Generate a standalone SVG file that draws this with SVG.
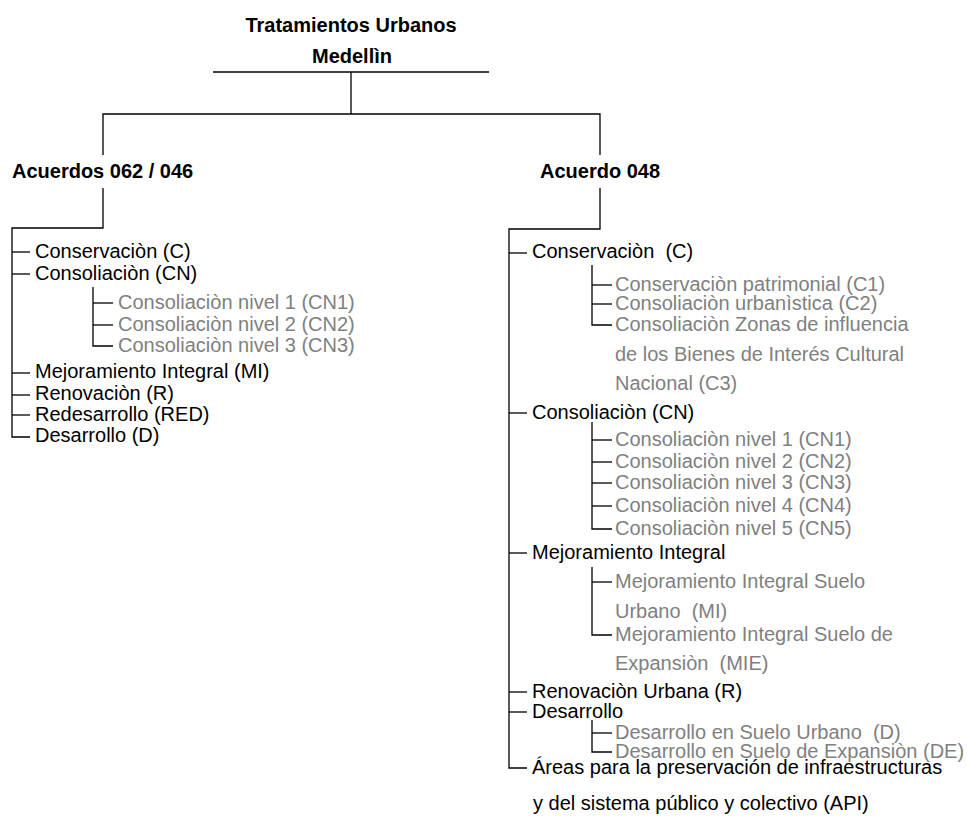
<svg xmlns="http://www.w3.org/2000/svg" width="967" height="824" viewBox="0 0 967 824">
<style>
text{font-family:"Liberation Sans",Arial,sans-serif;font-size:20px;fill:#000;white-space:pre}
.h{font-weight:bold}
.s{fill:#808080}
.c line,.c path{stroke:#000;stroke-width:1.3;fill:none}
</style>
<rect width="967" height="824" fill="#fff"/>
<g class="c" id="connectors">
<line x1="213" y1="72" x2="489" y2="72"/>
<line x1="351" y1="72" x2="351" y2="114"/>
<path d="M103 155V114H600V155"/>
<path d="M103 188V228H12V437H30"/>
<line x1="12" y1="252" x2="30" y2="252"/>
<line x1="12" y1="274" x2="30" y2="274"/>
<line x1="12" y1="373" x2="30" y2="373"/>
<line x1="12" y1="395" x2="30" y2="395"/>
<line x1="12" y1="415" x2="30" y2="415"/>
<path d="M93 287V346H113"/>
<line x1="93" y1="303" x2="113" y2="303"/>
<line x1="93" y1="325" x2="113" y2="325"/>
<path d="M600 188V229H509V768H527"/>
<line x1="509" y1="253" x2="527" y2="253"/>
<line x1="509" y1="413" x2="527" y2="413"/>
<line x1="509" y1="553" x2="527" y2="553"/>
<line x1="509" y1="692" x2="527" y2="692"/>
<line x1="509" y1="712" x2="527" y2="712"/>
<path d="M592 265V325H612"/>
<line x1="592" y1="285" x2="612" y2="285"/>
<line x1="592" y1="304" x2="612" y2="304"/>
<path d="M592 422V529H612"/>
<line x1="592" y1="440" x2="612" y2="440"/>
<line x1="592" y1="462" x2="612" y2="462"/>
<line x1="592" y1="483" x2="612" y2="483"/>
<line x1="592" y1="506" x2="612" y2="506"/>
<path d="M592 567V635H612"/>
<line x1="592" y1="582" x2="612" y2="582"/>
<path d="M592 720V752H612"/>
<line x1="592" y1="733" x2="612" y2="733"/>
</g>
<g id="root"><text class="h" x="351" y="32" text-anchor="middle">Tratamientos Urbanos</text><text class="h" x="352" y="63" text-anchor="middle">Medellìn</text></g>
<g id="acuerdos062"><text class="h" x="12" y="178">Acuerdos 062 / 046</text></g>
<g id="acuerdo048"><text class="h" x="540" y="178">Acuerdo 048</text></g>
<g id="l-c"><text x="35" y="258">Conservaciòn (C)</text></g>
<g id="l-cn"><text x="35" y="280">Consoliaciòn (CN)</text></g>
<g id="l-cn1"><text class="s" x="118" y="309">Consoliaciòn nivel 1 (CN1)</text></g>
<g id="l-cn2"><text class="s" x="118" y="331">Consoliaciòn nivel 2 (CN2)</text></g>
<g id="l-cn3"><text class="s" x="118" y="352">Consoliaciòn nivel 3 (CN3)</text></g>
<g id="l-mi"><text x="35" y="378">Mejoramiento Integral (MI)</text></g>
<g id="l-r"><text x="35" y="400">Renovaciòn (R)</text></g>
<g id="l-red"><text x="35" y="421">Redesarrollo (RED)</text></g>
<g id="l-d"><text x="35" y="442">Desarrollo (D)</text></g>
<g id="r-c"><text x="532" y="258">Conservaciòn  (C)</text></g>
<g id="r-c1"><text class="s" x="615" y="291">Conservaciòn patrimonial (C1)</text></g>
<g id="r-c2"><text class="s" x="615" y="310">Consoliaciòn urbanìstica (C2)</text></g>
<g id="r-c3"><text class="s" x="615" y="331">Consoliaciòn Zonas de influencia</text><text class="s" x="615" y="361">de los Bienes de Interés Cultural</text><text class="s" x="615" y="390">Nacional (C3)</text></g>
<g id="r-cn"><text x="532" y="419">Consoliaciòn (CN)</text></g>
<g id="r-cn1"><text class="s" x="615" y="446">Consoliaciòn nivel 1 (CN1)</text></g>
<g id="r-cn2"><text class="s" x="615" y="468">Consoliaciòn nivel 2 (CN2)</text></g>
<g id="r-cn3"><text class="s" x="615" y="489">Consoliaciòn nivel 3 (CN3)</text></g>
<g id="r-cn4"><text class="s" x="615" y="512">Consoliaciòn nivel 4 (CN4)</text></g>
<g id="r-cn5"><text class="s" x="615" y="535">Consoliaciòn nivel 5 (CN5)</text></g>
<g id="r-mi"><text x="532" y="559">Mejoramiento Integral</text></g>
<g id="r-mis"><text class="s" x="615" y="588">Mejoramiento Integral Suelo</text><text class="s" x="615" y="618">Urbano  (MI)</text></g>
<g id="r-mie"><text class="s" x="615" y="641">Mejoramiento Integral Suelo de</text><text class="s" x="615" y="670">Expansiòn  (MIE)</text></g>
<g id="r-r"><text x="532" y="698">Renovaciòn Urbana (R)</text></g>
<g id="r-d"><text x="532" y="718">Desarrollo</text></g>
<g id="r-d1"><text class="s" x="615" y="739">Desarrollo en Suelo Urbano  (D)</text></g>
<g id="r-de"><text class="s" x="615" y="758">Desarrollo en Suelo de Expansiòn (DE)</text></g>
<g id="r-api"><text x="532" y="774">Áreas para la preservación de infraestructuras</text><text x="533" y="810">y del sistema público y colectivo (API)</text></g>
</svg>
